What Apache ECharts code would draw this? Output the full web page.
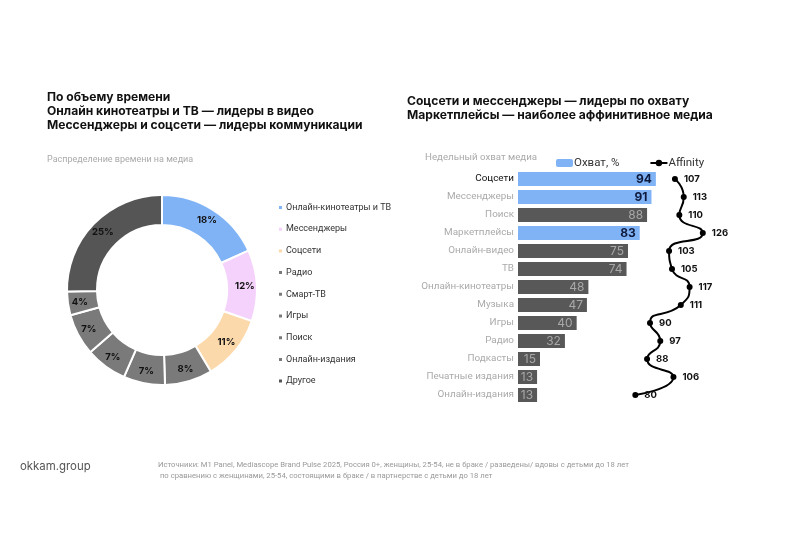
<!DOCTYPE html>
<html><head><meta charset="utf-8">
<script src="https://cdn.jsdelivr.net/npm/echarts@6/dist/echarts.min.js"></script>
<style>html,body{margin:0;padding:0;background:#fff}#c{width:800px;height:534px}</style>
</head><body><div id="c"></div>
<script>
const shareNames = ['Онлайн-кинотеатры и ТВ','Мессенджеры','Соцсети','Радио','Смарт-ТВ','Игры','Поиск','Онлайн-издания','Другое'];
const shareValues = [18,12,11,8,7,7,7,4,25];
const shareColors = ['#80b3f6','#f4d2fb','#fcd9aa','#7a7a7a','#7a7a7a','#7a7a7a','#7a7a7a','#7a7a7a','#555555'];

const reachCats = ['Соцсети','Мессенджеры','Поиск','Маркетплейсы','Онлайн-видео','ТВ','Онлайн-кинотеатры','Музыка','Игры','Радио','Подкасты','Печатные издания','Онлайн-издания'];
const reachValues = [94,91,88,83,75,74,48,47,40,32,15,13,13];
const reachHighlight = [true,true,false,true,false,false,false,false,false,false,false,false,false];
const affinityValues = [107,113,110,126,103,105,117,111,90,97,88,106,80];

const FONT = 'Inter, "Noto Sans", sans-serif';
const SMALL = 'Roboto, Inter, sans-serif';
const BLUE = '#80b3f6', DARK = '#585858';

const chart = echarts.init(document.getElementById('c'));
chart.setOption({
  backgroundColor:'#fff',
  textStyle:{fontFamily:FONT},
  title:[
    {text:'По объему времени\nОнлайн кинотеатры и ТВ — лидеры в видео\nМессенджеры и соцсети — лидеры коммуникации',left:47,top:91,padding:0,
     textStyle:{fontFamily:FONT,fontSize:12.1,fontWeight:'bold',color:'#111',lineHeight:13.7}},
    {text:'Распределение времени на медиа',left:47,top:155,padding:0,textStyle:{fontFamily:SMALL,fontSize:9,fontWeight:'normal',color:'#aaa'}},
    {text:'Соцсети и мессенджеры — лидеры по охвату\nМаркетплейсы — наиболее аффинитивное медиа',left:407,top:94,padding:0,
     textStyle:{fontFamily:FONT,fontSize:12.1,fontWeight:'bold',color:'#111',lineHeight:14}},
    {text:'Недельный охват медиа',left:425,top:153,padding:0,textStyle:{fontFamily:SMALL,fontSize:9.7,fontWeight:'normal',color:'#aaa'}},
    {text:'okkam.group',left:20,top:461,padding:0,textStyle:{fontFamily:FONT,fontSize:11.4,fontWeight:'normal',color:'#555'}},
    {text:'Источники: M1 Panel, Mediascope Brand Pulse 2025, Россия 0+, женщины, 25-54, не в браке / разведены/ вдовы с детьми до 18 лет\n по сравнению с женщинами, 25-54, состоящими в браке / в партнерстве с детьми до 18 лет',
     left:158,top:459,padding:0,textStyle:{fontFamily:SMALL,fontSize:7.7,fontWeight:'normal',color:'#999',lineHeight:11.5}}
  ],
  legend:[
    {data:shareNames,orient:'vertical',left:272,top:198,itemWidth:5,itemHeight:5,icon:'rect',itemGap:12.7,
     textStyle:{fontFamily:SMALL,fontSize:9,color:'#333',padding:[0,0,0,-2]}},
    {data:['Охват, %','Affinity'],left:551,top:152,itemWidth:17,itemHeight:8,itemGap:30,
     textStyle:{fontFamily:SMALL,fontSize:11.5,color:'#333',padding:[0,0,0,-4]}}
  ],
  grid:{left:518,top:170,height:234,width:220},
  xAxis:{type:'value',min:0,max:150,show:false},
  yAxis:{type:'category',data:reachCats,inverse:true,axisLine:{show:false},axisTick:{show:false},
    axisLabel:{margin:4,fontFamily:SMALL,fontSize:9.9,
      formatter:(v,i)=> i===0 ? '{a|'+v+'}' : '{b|'+v+'}',
      rich:{a:{color:'#111',fontSize:9.9,fontFamily:SMALL},b:{color:'#aaa',fontSize:9.9,fontFamily:SMALL}}}},
  series:[
    {type:'pie',name:'share',center:[162,290],radius:[65,95],startAngle:90,clockwise:true,
     data:shareNames.map((n,i)=>({name:n,value:shareValues[i],itemStyle:{color:shareColors[i]}})),
     itemStyle:{borderColor:'#fff',borderWidth:2},
     label:{show:true,position:'inside',formatter:'{c}%',fontFamily:FONT,fontSize:9.5,fontWeight:'bold',color:'#111'},
     labelLine:{show:false},emphasis:{disabled:true}},
    {type:'bar',name:'Охват, %',barWidth:14,itemStyle:{color:BLUE},
     data:reachValues.map((v,i)=>({value:v,itemStyle:{color:reachHighlight[i]?BLUE:DARK},
       label:reachHighlight[i]?{color:'#0e1a3c',fontWeight:'bold'}:{color:'#a8a8a8',fontWeight:'normal'}})),
     label:{show:true,position:'insideRight',distance:4,fontFamily:FONT,fontSize:12}},
    {type:'line',name:'Affinity',data:affinityValues,smooth:0.6,symbol:'circle',symbolSize:6,
     lineStyle:{color:'#000',width:2},itemStyle:{color:'#000'},
     label:{show:true,position:'right',distance:6,fontFamily:FONT,fontSize:9.5,fontWeight:'bold',color:'#111'}}
  ]
});
</script></body></html>
